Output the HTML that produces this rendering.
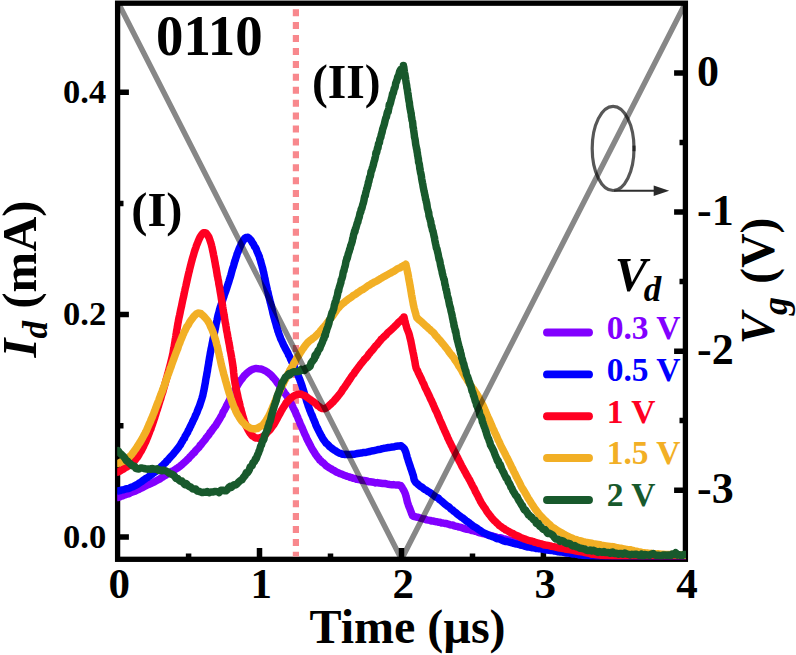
<!DOCTYPE html>
<html><head><meta charset="utf-8"><title>chart</title>
<style>html,body{margin:0;padding:0;background:#fff}svg{display:block}</style></head>
<body>
<svg width="796" height="655" viewBox="0 0 796 655">
<rect width="796" height="655" fill="#fff"/>
<defs><clipPath id="cp"><rect x="117.19999999999999" y="3.2" width="568.8" height="556.0999999999999"/></clipPath></defs>
<rect x="117.6" y="3.2" width="567.8" height="556.0999999999999" fill="none" stroke="#000" stroke-width="5.3"/>
<path d="M117.6,537.1h11.3M117.6,314.6h11.3M117.6,92.2h11.3M117.6,425.8h5.9M117.6,203.4h5.9M685.4,73.1h-11.3M685.4,212.1h-11.3M685.4,351.2h-11.3M685.4,490.2h-11.3M685.4,142.4h-5.9M685.4,281.4h-5.9M685.4,420.5h-5.9M259.5,559.3v-11.3M401.5,559.3v-11.3M543.4,559.3v-11.3M188.6,559.3v-5.9M330.5,559.3v-5.9M472.5,559.3v-5.9M614.4,559.3v-5.9" stroke="#000" stroke-width="5.5" fill="none"/>
<line x1="295.9" y1="9.2" x2="295.9" y2="556.6" stroke="#f8888d" stroke-width="6.2" stroke-dasharray="7 5.92"/>
<g clip-path="url(#cp)" fill="none" stroke-linejoin="round" stroke-linecap="round">
<path d="M118.0,497.4L118.9,497.1L120.1,496.8L121.5,496.0L123.1,495.7L124.8,494.9L126.6,494.2L128.4,493.9L130.2,492.9L131.9,492.2L133.5,491.7L135.0,491.2L136.8,490.2L138.6,489.5L140.2,488.5L141.8,487.9L143.4,487.1L144.9,486.2L146.4,485.5L147.8,484.8L149.5,484.2L150.9,483.5L152.3,482.9L153.8,482.2L155.6,481.1L157.8,480.0L158.9,479.4L160.1,478.8L161.4,477.8L162.8,477.0L164.2,475.9L165.7,475.3L167.2,474.1L168.8,473.3L170.3,472.7L171.8,471.3L173.3,470.8L174.7,469.9L176.0,468.9L177.3,468.2L178.4,467.4L180.1,466.2L181.6,464.9L182.9,463.7L184.2,462.6L185.4,461.5L186.5,460.5L187.6,459.3L188.8,458.4L190.0,456.7L191.1,455.7L192.3,454.5L193.4,453.1L194.6,452.4L195.7,450.5L196.8,449.5L198.0,448.2L199.1,447.2L200.1,445.4L201.2,444.6L202.2,443.0L203.3,441.8L204.3,440.5L205.3,439.4L206.2,437.8L207.2,436.7L208.2,435.4L209.1,434.4L210.1,432.4L211.0,431.7L212.0,430.3L212.9,428.9L213.8,427.8L214.7,426.6L215.6,425.7L216.5,424.1L217.5,422.5L218.7,420.6L220.0,418.4L220.6,417.3L221.3,416.0L222.0,415.1L222.7,413.2L223.4,411.5L224.2,410.5L225.0,408.9L225.8,407.4L226.6,405.7L227.5,404.1L228.3,402.5L229.1,400.9L230.0,399.1L230.8,397.5L231.6,396.3L232.4,394.5L233.2,392.8L233.9,391.9L234.6,390.4L235.3,388.9L236.0,387.7L237.2,386.0L238.3,384.0L239.4,382.3L240.4,380.7L241.4,379.4L242.3,378.4L243.3,376.9L244.2,375.7L245.1,375.0L246.1,373.9L247.0,373.1L248.7,371.7L250.4,370.4L252.1,369.6L253.7,369.0L255.3,368.5L257.0,368.6L258.7,368.8L260.4,368.9L262.1,369.4L263.7,370.1L265.4,370.9L267.0,371.9L268.1,372.7L269.2,373.5L270.2,374.4L271.3,375.2L272.3,376.6L273.5,377.9L274.8,379.3L276.2,381.0L276.9,382.3L277.7,383.4L278.5,384.2L279.3,385.3L280.2,386.4L281.0,387.8L281.9,388.7L282.8,390.3L283.7,391.4L284.7,393.0L285.6,394.2L286.6,395.7L287.5,397.0L288.5,398.7L289.5,400.5L290.4,402.3L291.4,404.0L292.0,405.1L292.7,406.6L293.3,408.0L294.0,409.3L294.7,410.7L295.4,412.2L296.1,414.0L296.8,415.5L297.5,416.9L298.2,418.8L298.9,420.3L299.6,421.9L300.3,423.9L301.0,425.5L301.8,427.0L302.5,428.7L303.2,430.4L303.8,431.8L304.5,433.5L305.2,435.1L305.9,436.2L306.5,438.0L307.2,439.4L307.8,440.7L308.4,441.6L309.0,443.0L310.1,444.9L311.1,446.9L312.0,448.6L312.9,450.1L313.8,451.5L314.6,452.8L315.5,454.3L316.3,455.3L317.2,456.7L318.1,457.8L319.0,458.7L319.9,460.2L320.9,460.9L322.0,462.3L323.2,462.8L324.4,463.9L325.7,465.4L326.9,466.3L328.2,467.1L329.5,468.0L330.9,468.6L332.3,469.6L333.7,470.3L335.2,471.2L336.8,472.2L338.4,472.8L340.0,473.6L341.4,474.0L342.8,474.6L344.2,475.2L345.6,475.7L347.1,476.4L348.6,476.6L350.2,477.5L351.7,477.5L353.3,478.3L355.0,478.5L356.6,479.3L358.3,479.4L360.1,479.9L361.9,480.3L363.7,480.5L365.6,480.8L367.0,481.0L368.6,481.7L370.2,481.7L371.9,482.0L373.7,482.3L375.5,482.9L377.3,482.6L379.2,483.1L381.1,483.3L382.9,483.6L384.8,483.5L386.6,483.9L388.4,484.3L390.2,484.6L391.9,484.8L393.5,484.6L395.0,484.9L396.4,485.1L397.7,485.0L398.9,485.1L399.9,485.6L400.8,485.6L400.8,485.6L401.4,486.7L402.2,487.7L403.2,489.5L404.2,491.2L405.0,493.0L405.6,494.6L406.0,496.3L406.5,498.1L406.9,499.9L407.4,502.1L408.0,503.7L408.5,505.4L409.1,507.0L409.8,508.6L410.5,510.6L411.1,512.0L411.7,513.8L412.2,514.8L412.6,515.8L412.6,515.9L413.5,516.3L414.7,516.6L416.0,517.0L417.5,517.2L419.2,517.6L420.9,518.3L422.7,518.7L424.6,519.0L426.4,519.8L428.2,520.1L430.0,520.4L431.4,520.9L432.9,520.9L434.3,521.3L435.7,521.7L437.1,521.7L438.5,522.2L440.0,522.3L441.5,522.9L443.1,523.0L444.8,523.5L446.6,523.6L448.4,524.2L450.4,524.8L451.7,525.1L453.0,525.1L454.4,525.9L455.9,526.2L457.4,526.4L458.9,527.1L460.5,527.2L462.0,527.8L463.7,528.4L465.3,528.9L466.9,529.3L468.6,529.4L470.2,529.8L471.9,530.6L473.5,530.7L475.2,531.4L476.8,531.6L478.4,532.4L479.9,532.8L481.5,533.2L483.0,533.5L484.6,533.9L486.2,534.3L487.8,534.8L489.3,535.2L490.9,535.6L492.4,535.9L493.9,536.6L495.4,536.8L496.9,537.3L498.4,537.7L499.9,537.8L501.5,538.0L503.0,538.9L504.6,539.0L506.2,539.4L507.8,539.8L509.5,540.2L511.2,540.4L513.0,541.0L514.4,541.2L515.9,541.6L517.4,541.6L518.9,542.4L520.4,542.6L521.9,542.7L523.5,543.1L525.1,543.6L526.7,544.0L528.3,544.2L529.9,544.8L531.5,544.9L533.1,545.0L534.8,545.4L536.4,545.9L538.0,546.1L539.7,546.6L541.3,546.9L542.9,547.2L544.6,547.6L546.2,547.7L547.8,548.0L549.4,548.2L551.0,548.5L552.6,548.7L554.2,549.1L555.8,549.3L557.4,549.6L559.0,550.1L560.7,550.5L562.3,550.6L563.9,551.2L565.6,551.4L567.2,551.7L568.8,551.8L570.4,551.9L572.1,552.5L573.7,552.8L575.3,553.1L576.9,553.3L578.4,553.7L580.0,553.7L581.5,554.1L583.1,554.1L584.6,554.1L586.1,554.6L587.6,555.0L589.0,554.7L590.8,555.4L592.4,555.3L593.9,555.5L595.4,555.8L596.8,555.9L598.1,555.9L599.4,556.2L600.8,556.3L602.1,556.5L603.4,556.3L604.8,556.8L606.3,556.9L607.9,557.0L609.5,556.5L611.3,556.8L613.2,556.6L615.3,557.0L617.6,557.0L620.0,556.8L621.2,556.8L622.5,557.1L623.9,557.2L625.3,557.0L626.8,557.1L628.4,556.7L630.0,557.0L631.7,557.1L633.4,557.2L635.1,557.4L636.9,557.0L638.8,556.8L640.6,557.2L642.5,557.1L644.4,557.2L646.3,557.3L648.2,557.2L650.1,557.4L652.1,557.3L654.0,556.9L655.9,557.1L657.8,557.4L659.7,557.0L661.6,557.2L663.4,557.1L665.2,557.0L667.0,557.3L668.8,557.2L670.5,557.0L672.1,557.2L673.7,556.8L675.3,556.9L676.8,557.2L678.2,557.0L679.5,556.9L680.8,557.1L682.0,557.1L683.2,557.2L684.2,557.1L685.1,557.0L686.0,557.0" stroke="#8200ff" stroke-width="7.5"/>
<path d="M118.0,491.0L119.0,490.8L120.2,490.6L121.7,489.9L123.4,489.8L125.1,489.2L127.0,488.7L128.8,488.5L130.5,487.6L132.0,487.0L133.6,486.4L135.0,485.7L136.5,484.8L137.9,484.1L139.3,483.0L140.8,482.1L142.3,481.1L144.0,479.8L145.2,478.9L146.5,478.0L147.9,477.3L149.3,476.3L150.7,475.2L152.1,474.2L153.6,472.9L155.0,472.1L156.3,471.0L157.6,470.1L158.9,468.8L160.0,467.9L161.4,466.5L162.6,465.5L163.8,464.2L164.8,463.2L165.8,462.4L166.8,460.8L167.9,460.1L168.9,458.8L170.0,457.5L171.0,456.4L172.1,455.3L173.1,454.2L174.1,452.9L175.2,451.6L176.2,450.4L177.3,449.0L178.4,447.7L179.5,446.0L180.6,444.6L181.3,443.0L182.1,441.8L182.8,440.6L183.6,439.1L184.4,438.3L185.2,436.2L186.0,435.0L186.8,433.5L187.6,432.3L188.4,430.2L189.2,429.1L189.9,427.3L190.7,425.9L191.4,424.3L192.1,423.0L192.8,421.3L193.5,420.0L194.2,418.5L194.9,417.2L195.6,415.0L196.2,414.1L196.9,412.5L197.5,410.7L198.1,409.3L198.7,407.7L199.3,406.5L199.9,404.7L200.4,403.1L200.9,401.6L201.4,400.1L201.9,398.6L202.4,396.8L202.8,395.6L203.2,393.4L203.6,391.5L203.9,390.4L204.2,388.8L204.5,387.3L204.8,385.5L205.1,383.9L205.4,382.4L205.6,380.8L205.9,379.0L206.2,377.4L206.5,376.1L206.8,374.2L207.1,372.4L207.4,371.2L207.6,369.4L207.9,367.5L208.2,365.8L208.5,364.4L208.7,362.6L209.0,360.9L209.3,359.3L209.5,357.7L209.8,356.3L210.1,354.5L210.4,352.7L210.7,351.4L211.0,349.6L211.3,348.1L211.7,346.5L212.0,344.6L212.3,342.9L212.7,341.3L213.0,339.4L213.3,338.1L213.7,336.5L214.0,334.7L214.3,333.1L214.7,331.5L215.0,329.9L215.4,328.1L215.7,326.5L216.0,324.8L216.3,323.3L216.7,321.6L217.0,320.3L217.3,318.7L217.7,316.9L218.1,315.1L218.5,313.7L219.0,312.1L219.5,309.9L219.9,308.5L220.3,307.1L220.8,305.8L221.3,304.1L221.8,302.9L222.3,301.2L222.8,299.8L223.3,298.1L223.9,296.4L224.4,294.6L225.0,293.1L225.6,291.5L226.1,290.0L226.7,288.2L227.3,286.4L227.8,284.8L228.4,283.1L228.9,281.5L229.3,280.0L229.8,278.4L230.3,277.0L230.8,275.3L231.3,273.4L231.7,271.9L232.2,270.1L232.7,268.3L233.2,266.9L233.7,265.2L234.2,263.3L234.7,261.7L235.2,260.2L235.7,258.4L236.2,257.0L236.7,255.7L237.1,253.9L237.6,252.9L238.1,251.7L238.5,250.6L239.5,247.9L240.5,245.9L241.4,243.7L242.3,242.1L243.2,240.6L244.1,239.2L245.0,238.1L245.9,237.5L246.8,237.4L247.9,237.3L249.0,238.2L250.1,239.3L251.3,240.7L252.4,242.8L253.5,244.3L254.5,246.5L255.5,247.7L256.2,249.0L256.8,250.8L257.4,252.2L258.0,253.5L258.6,255.0L259.2,256.3L259.7,258.2L260.3,259.9L260.8,261.9L261.4,264.0L262.0,266.0L262.3,267.3L262.7,268.5L263.0,269.9L263.3,271.4L263.7,272.7L264.0,274.4L264.3,275.6L264.6,277.5L265.0,278.7L265.3,280.6L265.6,281.9L266.0,283.9L266.3,285.3L266.7,287.1L267.1,288.8L267.4,290.3L267.9,292.0L268.3,293.6L268.7,295.9L269.1,297.0L269.4,298.5L269.8,300.1L270.2,302.0L270.6,303.0L271.0,304.9L271.4,306.5L271.8,308.3L272.2,309.6L272.6,311.5L273.0,313.4L273.5,315.2L273.9,316.9L274.3,318.2L274.8,320.0L275.2,321.6L275.7,323.0L276.1,324.6L276.6,326.5L277.0,327.9L277.5,329.4L277.9,331.0L278.4,332.0L278.8,333.6L279.5,335.4L280.2,337.2L280.8,339.0L281.6,340.5L282.3,342.1L283.0,343.6L283.7,345.4L284.4,346.4L285.1,348.0L285.8,349.4L286.6,350.6L287.3,352.1L288.0,353.2L288.6,354.9L289.3,356.0L290.0,357.5L290.7,359.2L291.4,360.8L292.1,362.2L292.8,363.7L293.4,365.0L294.1,366.3L294.7,367.9L295.4,369.3L296.1,370.6L296.7,372.4L297.4,373.8L298.0,375.2L298.7,377.0L299.3,378.4L300.0,380.2L300.5,381.8L301.0,382.9L301.6,384.7L302.1,386.0L302.6,387.9L303.1,389.3L303.6,391.0L304.1,392.4L304.6,394.2L305.1,396.1L305.6,397.6L306.1,399.0L306.6,401.0L307.2,402.7L307.7,404.1L308.3,406.0L308.8,407.2L309.4,408.9L310.0,410.7L310.6,412.2L311.2,413.8L311.9,415.0L312.5,416.5L313.2,418.4L313.8,419.7L314.5,421.5L315.2,422.9L315.8,424.8L316.5,426.3L317.2,427.8L317.9,429.2L318.6,430.7L319.3,432.0L320.0,433.5L320.7,434.7L321.4,436.0L322.0,437.0L322.7,438.5L323.8,440.0L325.0,441.7L326.1,443.2L327.3,444.1L328.4,445.2L329.6,446.7L330.7,447.4L331.9,448.4L333.0,449.2L334.2,450.1L335.3,450.6L336.8,451.7L338.2,452.5L339.5,453.2L340.9,453.4L342.3,454.2L344.0,454.4L345.8,454.3L348.0,454.5L349.3,454.6L350.8,454.6L352.3,454.3L354.0,454.3L355.7,453.9L357.5,453.5L359.3,453.2L361.1,453.1L363.0,452.6L364.8,452.5L366.6,452.2L368.3,451.8L370.0,451.5L371.5,451.0L373.0,450.8L375.1,450.3L377.0,449.9L378.9,449.4L380.7,449.2L382.4,448.7L384.0,448.3L385.6,448.1L387.1,447.8L388.6,447.4L390.0,447.4L392.3,447.0L394.5,446.7L396.5,446.2L398.2,445.9L399.7,446.0L400.8,445.8L400.8,445.9L401.8,446.4L403.1,447.4L404.5,449.0L405.0,450.3L405.6,451.6L406.1,453.0L406.6,455.1L407.2,457.3L407.8,458.8L408.4,461.2L408.9,462.5L409.5,464.4L410.2,466.3L410.8,468.3L411.5,470.1L412.1,472.0L412.6,473.7L413.1,475.1L413.4,475.9L413.4,476.2L413.7,477.7L414.2,479.9L415.0,481.3L415.9,482.7L417.1,483.5L418.5,484.9L420.0,486.1L421.1,486.7L422.4,487.5L423.7,488.7L425.1,489.7L426.6,490.4L428.0,491.5L429.4,492.1L430.9,493.3L432.4,494.5L433.9,495.5L435.5,496.8L437.2,497.6L438.4,498.3L439.6,499.7L440.8,500.5L442.1,501.6L443.3,502.7L444.6,503.8L445.9,504.9L447.2,506.0L448.5,506.6L449.8,507.8L451.1,509.2L452.4,509.8L453.6,511.1L454.9,512.0L456.2,513.0L457.5,514.3L458.8,515.3L460.1,516.1L461.5,517.3L463.0,518.1L464.4,519.3L465.8,520.6L467.2,521.5L468.6,522.4L470.1,523.7L471.5,524.6L472.9,525.8L474.4,526.8L475.8,527.6L477.3,528.5L478.7,529.6L480.2,530.5L481.6,531.6L483.0,532.4L484.6,533.3L486.2,533.9L487.7,534.6L489.2,535.5L490.8,535.9L492.4,536.7L494.0,537.1L495.6,537.9L497.0,538.7L498.5,538.8L500.0,539.3L501.7,540.0L503.6,540.9L505.9,541.5L507.2,541.6L508.6,542.0L510.1,542.4L511.7,542.7L513.3,543.3L515.0,543.7L516.7,544.0L518.5,544.5L520.2,545.0L522.0,545.4L523.7,545.7L525.5,546.4L527.2,546.9L528.8,547.0L530.4,547.2L531.9,547.7L533.3,547.8L534.7,548.0L536.1,548.5L537.5,548.4L539.0,548.7L540.4,548.9L541.9,549.1L543.5,549.4L545.2,549.7L547.0,550.1L548.9,550.3L551.0,550.5L552.3,550.5L553.8,550.9L555.2,551.0L556.8,551.4L558.3,551.8L560.0,551.9L561.6,552.1L563.3,552.3L565.1,552.7L566.8,553.0L568.6,553.1L570.3,553.4L572.1,553.9L573.9,553.8L575.7,554.2L577.4,554.4L579.2,555.0L580.9,555.1L582.6,555.3L584.3,555.5L585.9,555.7L587.5,555.9L589.0,555.8L590.8,556.2L592.4,556.4L593.9,556.3L595.4,556.7L596.8,556.8L598.1,556.6L599.4,556.8L600.8,556.9L602.1,557.0L603.4,557.2L604.8,557.0L606.3,557.2L607.9,557.3L609.5,557.4L611.3,557.4L613.2,557.4L615.3,557.5L617.6,557.2L620.0,557.6L621.2,557.5L622.5,557.3L623.9,557.5L625.3,557.3L626.8,557.3L628.4,557.5L630.0,557.5L631.7,557.7L633.4,557.5L635.1,557.4L636.9,557.5L638.8,557.9L640.6,557.6L642.5,557.5L644.4,557.5L646.3,557.4L648.2,557.6L650.1,557.7L652.1,557.8L654.0,557.8L655.9,557.6L657.8,557.5L659.7,557.5L661.6,557.2L663.4,557.4L665.2,557.6L667.0,557.5L668.8,557.6L670.5,557.3L672.1,557.7L673.7,557.6L675.3,557.5L676.8,557.6L678.2,557.2L679.5,557.4L680.8,557.4L682.0,557.8L683.2,557.5L684.2,557.4L685.1,557.6L686.0,557.5" stroke="#0000ff" stroke-width="7.5"/>
<path d="M118.0,472.0L118.9,471.5L120.1,471.0L121.6,469.9L123.2,469.3L124.8,468.1L126.5,467.1L128.0,466.3L129.1,465.2L130.3,464.3L131.4,463.5L132.5,462.7L133.7,461.5L134.8,460.5L136.0,458.9L137.1,457.6L138.3,455.8L139.0,454.6L139.7,453.3L140.4,452.1L141.2,451.0L141.9,449.6L142.6,448.2L143.4,446.7L144.1,445.0L144.8,443.6L145.6,442.0L146.3,440.4L147.1,438.4L147.8,436.7L148.6,434.6L149.3,432.9L149.8,431.3L150.3,430.1L150.9,429.0L151.4,427.0L151.9,425.9L152.5,424.3L153.0,422.6L153.6,421.0L154.1,419.4L154.7,417.8L155.2,415.9L155.8,414.2L156.3,412.5L156.8,410.8L157.4,409.3L157.9,407.5L158.4,406.2L158.9,404.2L159.4,402.8L159.8,401.3L160.3,399.7L160.7,398.9L161.3,396.4L161.8,394.9L162.4,393.1L162.9,391.7L163.4,389.5L163.8,388.3L164.3,386.4L164.8,384.9L165.2,383.2L165.6,381.9L166.0,380.1L166.4,378.8L166.8,377.4L167.2,376.2L167.6,374.1L168.0,373.2L168.5,371.3L169.0,369.3L169.4,367.7L169.9,365.9L170.3,364.6L170.7,362.8L171.1,361.2L171.5,359.6L171.9,358.0L172.3,356.3L172.6,354.5L173.0,353.2L173.3,351.1L173.6,349.2L173.9,348.1L174.2,346.4L174.4,344.8L174.7,343.1L175.0,341.4L175.2,339.8L175.5,338.2L175.8,336.3L176.0,334.7L176.3,333.4L176.5,331.6L176.8,329.9L177.1,328.7L177.3,327.0L177.6,325.5L177.8,324.1L178.0,323.1L178.3,321.7L178.5,320.3L178.8,318.8L179.1,317.3L179.5,315.6L180.0,313.2L180.5,310.6L180.7,309.7L181.0,308.4L181.3,307.2L181.6,305.9L181.9,304.2L182.2,302.7L182.5,301.2L182.9,299.4L183.2,298.1L183.6,296.5L184.0,294.6L184.3,292.8L184.7,291.1L185.1,289.2L185.5,287.5L185.9,285.8L186.3,283.9L186.7,282.2L187.1,280.3L187.4,278.9L187.8,277.2L188.2,275.4L188.6,273.6L188.9,272.4L189.3,271.0L189.6,269.3L190.0,268.0L190.3,266.7L190.6,265.6L191.2,263.1L191.7,261.2L192.3,259.0L192.8,257.3L193.4,255.3L193.9,253.5L194.4,251.7L194.9,250.2L195.4,248.8L195.9,247.5L196.3,246.1L196.8,244.7L197.3,243.6L197.7,242.6L198.2,241.3L199.3,238.7L200.4,236.5L201.4,235.0L202.4,233.7L203.5,232.7L204.5,232.8L205.4,232.8L206.3,233.3L207.1,234.5L208.0,235.7L208.9,237.2L209.8,239.8L210.8,242.9L211.1,243.7L211.4,244.9L211.7,246.2L212.0,247.1L212.3,248.8L212.6,250.2L212.9,251.6L213.2,252.9L213.5,254.7L213.8,256.1L214.2,257.9L214.5,259.6L214.8,261.2L215.1,262.8L215.4,264.6L215.7,266.5L216.1,268.0L216.4,270.0L216.7,271.8L217.0,273.5L217.3,275.7L217.7,277.1L218.0,279.2L218.3,280.3L218.6,281.8L218.8,283.8L219.1,285.3L219.4,286.7L219.7,288.4L219.9,289.7L220.2,291.6L220.5,293.2L220.8,295.0L221.1,296.8L221.3,298.4L221.6,300.1L221.9,301.7L222.2,303.4L222.5,305.2L222.7,306.8L223.0,308.7L223.3,310.1L223.5,312.2L223.8,313.4L224.1,315.3L224.4,316.7L224.6,318.7L224.9,320.0L225.1,321.6L225.4,323.2L225.7,324.4L225.9,325.8L226.2,327.5L226.5,329.8L226.8,331.3L227.2,333.0L227.5,334.9L227.8,336.9L228.1,338.0L228.4,339.9L228.7,341.5L229.0,343.2L229.3,344.5L229.6,346.3L229.9,348.0L230.1,349.7L230.4,351.2L230.7,352.4L231.0,354.0L231.2,355.4L231.5,356.7L231.7,358.1L232.0,359.9L232.2,361.2L232.5,363.1L232.8,365.1L233.0,366.4L233.2,368.3L233.4,369.8L233.5,371.3L233.7,373.0L233.9,374.4L234.0,376.0L234.2,377.5L234.4,379.3L234.7,380.6L234.9,382.5L235.2,384.2L235.6,385.9L236.0,388.0L236.3,389.2L236.6,390.9L236.9,392.1L237.3,393.8L237.7,395.5L238.0,397.3L238.4,399.0L238.8,400.7L239.2,402.3L239.7,404.0L240.1,406.0L240.5,407.7L241.0,409.2L241.4,411.3L241.9,412.8L242.3,414.3L242.8,416.2L243.3,417.5L243.7,419.1L244.2,420.7L244.6,421.8L245.1,423.3L245.6,424.3L246.0,425.7L247.1,427.9L248.2,430.1L249.2,431.7L250.3,433.5L251.5,435.0L252.6,436.1L253.8,436.6L254.9,437.7L256.2,438.1L257.4,438.1L258.7,438.4L260.0,437.7L261.3,437.3L262.7,436.7L264.1,435.8L265.5,434.6L266.9,432.9L268.3,431.3L269.8,430.0L271.2,428.0L272.0,427.1L272.8,425.8L273.7,424.8L274.5,423.4L275.4,421.9L276.2,420.3L277.1,418.8L278.0,417.1L278.8,415.6L279.7,413.9L280.5,412.4L281.4,410.7L282.2,409.5L283.1,407.8L283.9,406.6L284.7,405.4L285.5,403.9L286.3,402.7L287.8,401.4L289.3,399.6L290.7,398.3L292.1,397.1L293.5,396.2L294.9,395.3L296.3,394.8L297.6,394.4L299.0,394.2L300.5,393.9L302.1,394.7L303.6,395.2L305.1,395.8L306.6,396.9L308.0,398.0L309.5,399.1L311.0,400.0L312.3,401.1L313.7,402.0L315.0,403.0L316.4,404.2L317.7,405.6L319.1,406.4L320.3,407.6L321.6,408.3L322.7,408.6L324.6,408.7L326.2,407.9L327.8,406.9L329.3,405.4L331.0,403.9L332.0,402.8L333.0,402.0L334.0,400.8L335.1,399.5L336.1,398.5L337.2,397.2L338.3,395.7L339.3,394.6L340.4,393.1L341.3,391.9L342.3,390.3L343.2,388.8L344.2,387.7L345.1,386.3L346.1,384.9L347.0,383.4L348.0,382.1L349.0,380.4L350.0,379.1L350.9,377.6L351.9,376.0L352.8,374.9L353.8,373.9L354.8,372.0L355.7,371.1L356.7,369.5L357.7,368.2L358.6,367.0L359.6,365.7L360.5,364.4L361.6,363.1L362.6,361.9L363.6,360.7L364.6,359.2L365.6,358.4L366.7,357.2L367.7,356.1L368.8,354.2L370.0,353.0L371.0,351.5L372.1,350.5L373.2,349.2L374.4,347.6L375.5,346.1L376.7,345.0L377.9,343.6L379.1,342.0L380.2,340.8L381.3,339.2L382.4,338.3L383.7,337.1L384.9,335.8L386.1,334.9L387.2,333.3L388.4,332.1L389.5,331.4L390.7,330.2L391.8,329.2L393.0,328.1L394.3,326.8L395.6,325.6L397.0,324.2L398.5,322.4L399.8,321.3L401.1,320.3L402.3,318.8L403.3,318.1L404.0,317.2L404.0,317.1L404.3,318.5L404.6,319.9L405.1,321.5L405.5,323.6L406.0,325.1L406.5,326.9L407.1,328.9L407.7,330.3L408.3,331.8L409.0,333.8L409.6,336.0L409.9,337.5L410.3,338.9L410.6,340.3L411.0,341.8L411.3,343.6L411.7,345.3L412.0,347.2L412.3,348.9L412.7,350.6L413.0,352.1L413.4,353.8L413.8,355.9L414.1,357.8L414.5,359.9L414.9,361.6L415.2,363.6L415.5,365.5L415.8,366.5L416.0,367.5L416.0,367.7L416.4,368.7L416.8,369.6L417.3,370.3L417.8,371.4L418.3,372.7L418.9,373.9L419.6,375.4L420.3,376.7L421.0,378.1L421.7,379.7L422.4,381.4L423.2,382.9L424.0,384.5L424.7,386.5L425.5,388.4L426.3,389.7L427.1,391.4L427.9,393.2L428.7,394.8L429.5,396.4L430.2,398.3L430.9,399.6L431.7,401.1L432.3,402.6L433.0,404.0L433.6,405.5L434.4,407.3L435.1,409.1L435.8,410.6L436.6,412.1L437.3,413.5L437.9,415.3L438.6,416.7L439.3,418.4L439.9,420.1L440.6,421.5L441.2,422.9L441.9,424.3L442.5,425.9L443.1,427.4L443.8,428.7L444.4,430.2L445.1,431.8L445.7,432.9L446.3,434.5L447.0,435.8L447.7,437.8L448.5,439.2L449.2,440.8L449.9,442.3L450.7,443.8L451.4,445.4L452.1,446.6L452.9,448.4L453.6,449.9L454.3,451.1L455.1,452.9L455.8,454.3L456.5,455.4L457.2,457.0L457.9,458.4L458.6,459.7L459.3,461.2L460.0,462.3L460.8,464.0L461.6,465.7L462.4,467.2L463.2,468.6L464.0,470.0L464.8,471.6L465.5,472.6L466.3,474.4L467.0,475.6L467.8,476.8L468.6,478.3L469.3,479.5L470.1,480.9L470.8,482.5L471.6,483.9L472.4,485.6L473.1,486.8L473.9,488.2L474.7,489.8L475.4,491.7L476.2,492.9L476.9,494.3L477.7,495.7L478.4,497.2L479.2,498.8L480.0,500.3L480.7,501.8L481.5,503.1L482.2,504.3L483.0,505.4L484.0,507.0L485.1,508.4L486.1,510.1L487.1,511.8L488.2,513.1L489.2,514.6L490.2,515.7L491.3,517.3L492.3,518.4L493.4,519.6L494.4,520.8L495.6,521.7L496.9,523.1L498.1,524.1L499.3,525.5L500.5,526.2L501.7,527.1L503.0,528.2L504.4,528.8L505.9,530.1L507.2,530.6L508.5,531.4L509.9,532.1L511.3,533.1L512.8,533.4L514.2,534.6L515.7,535.1L517.3,535.9L518.8,536.4L520.3,537.3L521.9,537.9L523.5,538.6L525.0,539.1L526.6,539.7L528.2,540.3L529.9,540.7L531.5,541.0L533.2,541.5L534.9,542.3L536.6,542.6L538.3,543.3L540.0,543.6L541.6,543.9L543.2,544.6L544.9,545.1L546.5,545.2L548.2,545.4L549.9,545.8L551.6,546.4L553.3,546.6L555.0,546.9L556.6,547.4L558.3,547.7L560.0,548.0L561.7,548.2L563.3,548.5L565.0,549.0L566.7,549.3L568.4,549.6L570.1,549.7L571.7,550.1L573.4,550.4L575.1,550.7L576.7,551.0L578.4,551.4L580.0,551.5L581.6,551.8L583.1,552.0L584.5,552.5L586.0,552.7L587.4,553.0L588.8,553.2L590.3,553.7L591.8,554.3L593.4,554.3L595.2,554.5L597.0,554.8L599.0,554.9L600.3,555.2L601.6,555.2L603.0,555.3L604.3,555.6L605.7,555.7L607.0,555.8L608.5,555.8L609.9,556.1L611.4,556.0L613.0,556.4L614.6,556.3L616.2,556.5L618.0,556.7L619.7,556.7L621.6,556.5L623.6,556.8L625.6,556.9L627.8,556.8L630.0,556.6L631.3,557.0L632.7,557.0L634.1,557.1L635.6,557.1L637.2,557.1L638.8,557.2L640.5,557.3L642.2,557.2L644.0,557.2L645.8,557.1L647.6,557.3L649.5,557.1L651.4,557.3L653.3,556.8L655.2,557.2L657.1,557.1L659.0,557.1L660.9,557.3L662.8,557.2L664.6,557.1L666.4,557.0L668.2,557.4L670.0,557.2L671.7,557.2L673.4,556.9L675.0,557.2L676.5,557.1L678.0,557.0L679.4,557.0L680.7,556.8L682.0,557.1L683.1,556.8L684.2,557.1L685.1,556.9L686.0,557.0" stroke="#ff0022" stroke-width="7.5"/>
<path d="M118.0,463.4L118.8,463.0L119.9,462.7L121.1,461.9L122.5,461.6L124.0,460.7L125.6,459.8L127.2,459.0L128.8,457.5L130.3,455.9L131.1,455.1L131.9,454.2L132.8,452.9L133.6,451.9L134.5,450.5L135.4,449.4L136.3,448.1L137.2,446.6L138.1,445.2L139.0,443.8L139.9,442.5L140.8,441.0L141.7,439.5L142.6,437.9L143.5,436.1L144.3,434.7L145.2,433.0L145.8,431.8L146.5,430.3L147.1,428.9L147.8,427.3L148.4,426.0L149.1,424.2L149.8,422.8L150.4,421.6L151.1,419.5L151.7,418.4L152.4,416.7L153.0,415.0L153.7,413.5L154.3,411.9L154.9,410.4L155.5,408.6L156.1,407.0L156.7,405.5L157.3,403.9L157.8,402.6L158.4,401.1L158.9,400.1L159.4,398.3L160.1,396.5L160.8,394.8L161.5,392.9L162.1,391.8L162.7,389.5L163.3,388.3L163.8,386.7L164.4,385.5L164.9,383.5L165.4,382.5L165.9,380.8L166.4,379.4L166.9,377.9L167.5,376.6L168.0,374.8L168.6,373.4L169.2,371.8L169.7,370.5L170.3,368.2L170.9,367.3L171.4,365.6L172.0,363.8L172.5,362.4L173.1,360.7L173.6,359.5L174.2,357.7L174.8,356.1L175.4,354.5L176.0,352.9L176.6,351.4L177.2,349.7L177.8,348.5L178.4,346.3L179.0,344.5L179.6,343.4L180.2,341.7L180.8,340.2L181.5,338.5L182.1,337.0L182.7,335.5L183.3,334.2L184.0,332.5L184.6,331.2L185.2,330.3L186.1,328.3L187.1,326.3L188.1,325.1L189.1,323.3L190.0,321.6L191.0,320.2L191.9,319.1L192.8,317.8L193.6,316.7L194.4,315.8L196.4,313.8L197.9,313.1L199.8,313.2L200.9,313.6L202.1,314.8L203.3,315.7L204.6,317.1L205.9,318.6L207.2,320.1L208.4,322.0L209.1,323.2L209.7,324.3L210.3,325.8L210.9,327.3L211.6,328.6L212.2,330.0L212.8,331.6L213.4,333.2L214.0,335.0L214.6,336.9L215.2,338.8L215.8,340.9L216.2,342.1L216.5,343.7L216.9,345.1L217.3,346.3L217.6,347.7L218.0,349.5L218.3,351.3L218.7,352.6L219.1,354.3L219.4,355.9L219.8,357.8L220.2,359.2L220.6,361.2L220.9,362.7L221.3,364.5L221.7,366.1L222.1,367.7L222.5,369.2L223.0,371.0L223.4,372.7L223.8,374.4L224.3,375.9L224.7,377.4L225.2,379.2L225.6,380.9L226.1,382.4L226.6,384.1L227.0,385.7L227.5,387.6L228.0,389.2L228.5,390.7L229.0,392.5L229.5,394.0L230.0,395.5L230.5,397.4L231.0,398.8L231.5,400.1L231.9,401.6L232.4,403.0L232.9,404.2L233.4,405.5L234.2,407.6L235.1,409.2L235.9,411.3L236.7,413.0L237.5,414.5L238.4,415.7L239.2,417.4L240.0,418.5L240.9,419.9L241.7,421.0L242.6,422.0L243.5,422.9L245.1,424.5L246.6,426.0L248.3,426.9L249.9,427.9L251.5,428.5L253.2,428.7L254.8,429.1L256.2,428.5L257.6,428.4L259.0,427.2L260.4,426.4L261.8,425.8L263.3,424.4L264.7,422.6L266.2,420.6L266.8,419.3L267.5,418.4L268.1,417.1L268.8,416.0L269.4,414.8L270.1,413.2L270.8,411.8L271.4,410.1L272.1,408.6L272.8,407.0L273.4,405.4L274.1,404.0L274.8,402.0L275.5,400.8L276.1,398.8L276.8,397.5L277.5,395.7L278.1,394.6L278.8,392.9L279.5,391.4L280.3,389.9L281.0,388.2L281.7,386.6L282.5,384.9L283.2,383.9L283.9,382.1L284.6,380.7L285.4,379.3L286.1,378.1L286.8,376.1L287.6,374.9L288.3,373.4L289.1,372.1L289.8,370.3L290.6,369.1L291.4,367.8L292.3,366.4L293.1,364.9L294.0,362.9L295.0,361.5L295.9,359.9L296.8,358.1L297.8,356.6L298.7,355.4L299.7,353.8L300.6,352.3L301.5,351.1L302.4,349.4L303.3,348.3L304.2,347.0L305.0,345.9L305.8,344.9L307.3,343.0L308.8,341.5L310.2,340.3L311.6,339.5L312.9,338.2L314.1,337.5L315.3,336.4L316.5,335.2L317.7,334.1L318.9,332.7L320.0,331.7L321.0,330.2L322.0,329.1L323.0,327.9L324.1,326.7L325.2,325.4L326.3,324.1L327.3,322.6L328.4,321.1L329.5,320.0L330.7,318.5L331.8,316.9L332.8,315.8L333.7,314.3L334.7,312.8L335.7,311.6L336.7,309.9L337.8,308.5L339.0,307.3L340.4,305.6L341.5,304.8L342.6,303.6L343.9,302.8L345.1,301.6L346.4,300.7L347.8,299.4L349.2,298.6L350.6,297.7L352.1,296.6L353.5,295.3L355.0,294.6L356.3,293.8L357.5,292.7L358.8,292.1L360.1,290.9L361.5,290.1L362.8,289.5L364.2,288.6L365.6,287.7L367.0,286.5L368.4,285.5L369.9,284.9L371.4,283.7L373.0,283.0L374.3,282.0L375.7,281.6L377.2,280.7L378.7,279.8L380.2,278.8L381.8,277.9L383.3,277.0L384.9,276.2L386.5,275.3L388.0,274.5L389.5,273.5L390.9,273.0L392.2,272.0L393.5,271.5L394.7,270.8L395.8,269.9L398.0,268.5L399.9,267.9L401.5,266.7L402.9,266.0L404.0,265.3L405.0,264.9L405.8,264.2L405.8,264.4L406.1,265.6L406.5,267.5L407.0,269.3L407.5,272.1L407.8,273.5L408.1,274.7L408.4,276.4L408.7,278.3L409.1,280.5L409.6,283.0L409.8,284.5L410.1,285.7L410.3,287.2L410.6,288.9L410.9,290.8L411.2,292.4L411.5,294.5L411.8,296.3L412.2,298.1L412.5,299.9L412.8,301.4L413.1,303.0L413.3,304.4L413.6,305.7L414.1,307.9L414.7,310.2L415.2,312.0L415.7,313.7L416.1,315.4L416.5,316.6L416.8,317.4L416.8,317.7L417.7,318.5L419.0,319.8L421.0,321.4L422.0,322.2L423.2,323.5L424.4,324.6L425.8,325.9L427.2,327.0L428.6,328.4L429.8,329.3L431.0,330.6L432.4,331.7L433.6,332.8L434.7,334.3L435.9,335.9L437.0,336.8L438.3,338.7L439.3,339.6L440.4,340.8L441.4,342.1L442.5,343.5L443.6,344.6L444.7,346.1L445.9,347.6L447.0,349.1L447.9,350.1L448.8,351.6L449.8,352.9L450.7,354.2L451.7,355.0L452.6,356.5L453.6,357.6L454.6,359.3L455.6,360.8L456.6,362.1L457.4,363.3L458.2,364.9L459.0,366.3L459.8,367.4L460.7,368.9L461.5,370.0L462.3,371.7L463.2,373.3L464.1,374.8L464.9,376.5L465.8,377.5L466.7,378.8L467.6,380.7L468.4,381.8L469.3,383.3L470.2,384.7L471.1,386.0L472.0,387.4L472.9,388.7L473.9,389.6L474.8,391.1L475.7,392.8L476.6,393.8L477.5,395.4L478.3,396.6L479.2,398.0L480.0,399.7L480.7,401.0L481.4,402.2L482.1,403.8L482.8,404.9L483.5,406.5L484.2,408.2L484.8,409.6L485.4,410.9L486.1,412.6L486.7,414.1L487.3,415.7L488.0,417.2L488.6,418.4L489.3,419.9L489.9,421.4L490.6,422.9L491.3,424.7L492.0,426.2L492.6,427.7L493.3,429.1L494.0,430.5L494.6,432.2L495.3,433.5L496.0,435.1L496.7,436.4L497.4,438.1L498.1,439.9L498.8,441.0L499.5,442.5L500.2,444.2L501.0,446.0L501.7,447.5L502.5,448.8L503.2,450.3L504.0,451.8L504.8,453.3L505.6,454.9L506.3,456.4L507.1,457.8L507.9,459.4L508.7,461.0L509.4,462.4L510.2,463.9L511.0,465.8L511.7,467.4L512.5,468.6L513.2,470.2L513.9,471.8L514.7,473.2L515.4,474.7L516.2,476.5L516.9,477.7L517.7,479.3L518.5,480.8L519.3,482.3L520.1,483.9L520.9,485.6L521.7,487.2L522.5,488.5L523.4,490.0L524.3,491.3L525.2,493.0L526.1,494.4L527.0,496.1L527.9,497.8L528.8,499.1L529.7,500.5L530.5,501.9L531.4,503.3L532.2,504.6L533.0,505.6L533.7,506.8L535.0,508.9L536.1,510.1L537.1,511.6L538.1,512.7L539.0,514.2L540.0,515.2L541.1,516.3L542.3,517.6L543.4,518.7L544.6,520.0L545.8,520.9L547.1,522.4L548.4,523.7L549.7,524.6L551.1,526.1L552.5,527.2L554.0,528.0L555.4,529.1L556.9,530.1L558.4,531.0L560.0,532.1L561.5,532.7L563.1,533.7L564.7,534.6L566.2,535.5L567.6,536.1L569.0,536.8L570.7,537.7L572.3,538.1L573.8,539.1L575.2,539.5L576.7,539.8L578.3,540.4L580.0,540.7L581.5,541.1L583.1,541.7L584.7,542.0L586.4,542.6L588.1,542.6L589.9,542.9L591.6,543.2L593.3,544.0L595.0,544.0L596.6,544.2L598.2,544.4L599.8,544.7L601.4,545.1L603.0,545.4L604.6,545.8L606.3,546.1L608.1,546.2L610.0,546.4L611.5,546.6L613.0,546.7L614.6,547.2L616.3,547.7L618.0,547.8L619.7,548.2L621.4,548.3L623.1,548.9L624.9,549.1L626.6,549.4L628.3,549.8L630.0,549.7L631.6,550.2L633.1,550.5L634.6,551.2L636.1,551.2L637.5,551.5L639.0,552.0L640.5,552.0L642.1,552.7L643.9,552.7L645.7,553.0L647.8,553.1L650.0,553.6L651.3,553.3L652.8,553.8L654.4,553.7L656.1,553.9L657.8,553.8L659.6,554.1L661.5,554.2L663.4,554.3L665.4,554.4L667.3,554.5L669.2,554.6L671.2,554.5L673.1,554.4L674.9,554.5L676.7,554.8L678.3,554.7L679.9,555.0L681.4,554.9L682.8,554.7L684.0,555.1L685.1,555.3L686.0,555.0" stroke="#f2af25" stroke-width="7.5"/>
<path d="M118.0,450.8L118.7,451.5L119.7,453.0L120.9,453.9L122.2,455.2L123.5,456.4L124.9,458.3L126.3,460.5L127.6,461.3L129.0,462.9L130.2,463.7L131.5,465.0L132.8,466.0L134.3,465.9L135.9,468.3L137.7,468.8L139.0,469.1L140.5,468.0L142.1,468.0L143.8,468.5L145.5,468.8L147.2,469.2L148.9,468.9L150.7,469.2L152.3,468.5L153.9,469.1L155.3,469.2L157.1,468.8L158.8,470.5L160.4,470.1L162.0,470.8L163.5,470.1L165.0,470.5L166.5,471.3L168.0,472.1L169.4,473.3L170.7,473.9L172.1,474.4L173.4,475.1L174.8,476.5L176.1,478.6L177.6,478.4L179.0,480.1L180.5,481.3L181.9,481.0L183.4,482.9L184.8,484.6L186.3,483.7L187.9,485.7L189.4,486.7L191.0,487.2L192.5,488.8L194.1,489.2L195.6,489.0L197.3,491.0L199.0,491.4L200.7,492.0L202.4,492.6L204.0,492.2L205.7,492.2L207.4,491.5L209.1,492.7L210.8,492.0L212.5,492.1L214.2,491.6L215.8,491.6L217.5,491.7L219.2,492.6L220.9,490.3L222.5,490.2L224.2,490.7L225.9,490.8L227.3,489.6L228.7,487.5L230.1,486.4L231.5,487.4L232.8,485.9L234.2,484.7L235.6,485.0L237.0,484.0L238.3,482.4L239.7,481.2L241.0,480.1L242.0,479.7L243.1,477.9L244.1,476.6L245.2,475.4L246.2,472.8L247.3,473.1L248.3,471.5L249.3,469.8L250.3,466.8L251.2,466.2L252.1,465.6L253.0,462.6L253.8,462.2L254.6,461.6L255.4,458.7L256.2,458.9L256.9,456.8L257.6,454.8L258.2,453.6L258.7,452.3L259.3,450.5L259.8,449.6L260.4,447.0L260.9,445.7L261.4,445.1L262.0,443.0L262.6,440.9L263.3,440.4L263.9,439.1L264.5,436.4L265.2,434.2L265.8,433.4L266.4,431.9L266.9,430.2L267.5,429.8L268.0,426.8L268.5,426.8L269.1,423.5L269.5,422.2L270.0,421.5L270.4,420.3L270.8,418.6L271.2,416.8L271.6,415.1L272.1,413.4L272.6,411.9L273.1,410.0L273.5,408.6L274.0,407.1L274.5,405.1L275.1,403.8L275.6,401.9L276.1,401.0L276.7,398.3L277.2,396.2L277.8,394.6L278.3,393.3L279.0,392.0L279.6,389.5L280.3,388.2L281.0,387.3L281.7,383.0L282.4,382.3L283.1,381.7L283.7,380.4L284.4,379.1L285.5,377.0L286.7,376.2L287.8,375.0L288.9,373.6L290.0,374.7L291.9,372.6L293.9,371.8L296.0,371.7L297.7,371.4L299.5,371.3L301.3,369.4L303.0,370.3L304.5,370.5L305.9,368.4L307.3,368.0L308.5,367.6L309.5,366.6L310.2,366.1L311.1,362.9L312.5,361.3L313.1,360.3L313.7,359.8L314.3,359.0L315.0,355.5L315.7,356.4L316.5,353.5L317.3,353.3L318.1,350.5L318.9,349.8L319.8,348.6L320.6,346.0L321.5,344.2L322.3,342.5L322.8,340.9L323.3,339.4L323.8,339.1L324.2,337.5L324.7,335.3L325.3,335.7L325.8,331.9L326.3,331.7L326.8,329.4L327.3,328.1L327.8,326.9L328.4,325.0L328.9,323.6L329.4,320.7L330.0,319.0L330.5,318.6L331.1,315.9L331.6,314.1L332.1,312.1L332.7,312.0L333.2,309.9L333.8,308.5L334.3,305.2L334.7,304.4L335.1,302.2L335.6,301.9L336.0,300.9L336.4,297.9L336.9,297.8L337.3,295.8L337.7,293.5L338.2,290.8L338.6,291.2L339.0,288.7L339.5,286.7L339.9,285.6L340.4,283.9L340.8,282.9L341.3,279.7L341.7,279.3L342.1,277.9L342.6,276.2L343.0,273.5L343.4,271.5L343.9,271.0L344.3,268.8L344.7,267.2L345.1,266.4L345.6,263.8L346.0,261.1L346.4,260.7L346.8,258.3L347.2,258.5L347.7,256.4L348.2,254.1L348.7,252.7L349.2,251.4L349.7,249.2L350.2,248.2L350.7,245.6L351.2,244.6L351.7,243.1L352.2,241.5L352.7,238.5L353.1,237.8L353.6,234.5L354.1,233.4L354.5,231.3L355.0,231.6L355.4,228.7L355.9,228.0L356.3,226.5L356.7,225.2L357.1,223.5L357.5,222.6L357.8,222.3L358.2,220.0L358.8,218.3L359.3,216.9L359.7,214.7L360.1,212.9L360.4,212.2L360.8,212.1L361.1,209.5L361.4,209.0L361.8,208.6L362.2,207.0L362.7,204.7L363.3,203.1L364.0,200.1L364.3,198.2L364.6,196.8L364.9,196.1L365.3,195.7L365.6,193.5L366.0,191.9L366.4,190.6L366.8,188.6L367.2,188.0L367.6,185.8L368.0,185.1L368.4,181.9L368.8,181.8L369.2,179.6L369.7,177.1L370.1,177.0L370.6,174.7L371.0,171.8L371.5,170.8L371.9,169.8L372.4,167.6L372.8,166.6L373.3,164.9L373.7,163.1L374.2,161.1L374.6,160.0L375.1,158.0L375.5,156.2L375.9,153.0L376.4,153.2L376.8,151.8L377.2,149.3L377.6,147.7L378.0,147.7L378.5,143.7L378.9,143.4L379.4,142.8L379.9,139.1L380.3,138.4L380.8,137.4L381.3,134.5L381.8,133.2L382.2,131.7L382.7,128.9L383.2,127.7L383.6,126.3L384.1,125.0L384.6,122.8L385.0,121.1L385.5,119.0L385.9,117.8L386.4,117.0L386.8,115.0L387.2,112.9L387.7,111.4L388.1,112.1L388.5,109.7L388.9,108.0L389.3,104.7L389.7,105.2L390.1,103.8L390.4,103.3L390.8,101.3L391.4,98.8L392.0,97.0L392.6,93.5L393.2,93.4L393.7,91.1L394.2,88.7L394.7,88.2L395.2,86.8L395.7,83.3L396.1,82.2L396.6,81.4L397.0,80.0L397.4,78.3L397.8,76.7L398.2,77.4L398.6,75.6L399.6,71.7L400.6,69.6L401.5,69.9L402.3,68.3L402.9,67.9L403.4,66.5L403.4,65.5L403.6,67.2L403.8,67.1L404.1,69.6L404.4,71.8L404.8,74.1L405.1,75.4L405.5,77.8L405.8,80.3L406.0,81.6L406.2,83.2L406.5,84.4L406.7,85.6L406.9,87.8L407.2,88.9L407.4,90.0L407.6,91.7L407.9,93.8L408.2,95.4L408.4,97.3L408.7,99.0L408.9,100.6L409.2,101.9L409.4,102.7L409.6,105.3L409.9,107.2L410.1,108.5L410.4,109.7L410.7,111.7L410.9,112.5L411.2,113.6L411.4,116.4L411.7,117.5L412.0,120.2L412.2,120.7L412.5,121.4L412.8,124.0L413.0,127.0L413.2,127.3L413.4,128.1L413.6,129.9L413.9,132.1L414.1,133.5L414.3,134.8L414.5,137.1L414.8,138.2L415.1,139.5L415.4,141.8L415.7,144.4L416.1,146.2L416.5,148.6L416.7,148.6L416.9,150.4L417.2,152.3L417.4,153.0L417.6,155.3L417.9,156.4L418.1,158.1L418.4,158.9L418.6,162.2L418.9,163.0L419.2,163.7L419.5,165.5L419.8,168.7L420.0,168.6L420.3,171.0L420.6,172.8L420.9,173.9L421.2,174.9L421.5,177.4L421.8,179.3L422.2,181.5L422.5,183.0L422.8,184.3L423.1,186.5L423.4,188.0L423.7,189.5L424.0,191.1L424.4,192.5L424.7,194.7L425.0,195.3L425.3,197.1L425.6,199.1L426.0,199.8L426.3,202.1L426.6,202.7L427.0,205.1L427.3,207.4L427.6,208.9L428.0,210.1L428.3,211.6L428.7,212.4L429.0,215.9L429.3,216.7L429.7,218.6L430.1,218.9L430.4,220.9L430.8,221.5L431.1,224.6L431.5,226.3L431.8,226.1L432.2,228.8L432.6,230.8L433.0,231.0L433.3,232.6L433.7,234.6L434.1,236.5L434.5,237.7L434.8,240.2L435.2,242.0L435.6,244.0L436.0,245.7L436.3,247.7L436.7,249.0L437.0,249.0L437.4,251.1L437.7,252.3L438.1,253.9L438.5,256.1L438.8,257.8L439.2,259.7L439.6,260.1L440.0,262.0L440.4,264.4L440.7,265.9L441.1,267.5L441.5,269.4L441.9,270.6L442.3,273.2L442.7,274.6L443.0,276.0L443.4,277.3L443.8,279.3L444.2,279.4L444.6,282.1L444.9,284.3L445.3,285.0L445.7,287.6L446.0,289.2L446.4,289.8L446.7,292.0L447.1,293.5L447.4,295.4L447.7,297.0L448.1,298.0L448.4,298.9L448.7,300.7L449.1,302.6L449.5,305.0L450.0,306.5L450.4,307.7L450.7,309.1L451.1,311.4L451.5,312.9L451.9,314.4L452.3,316.7L452.6,318.1L453.0,320.0L453.3,321.9L453.7,322.9L454.0,326.0L454.3,326.0L454.7,328.3L455.0,329.2L455.3,331.2L455.6,330.5L456.0,332.9L456.3,334.9L456.6,336.4L456.9,338.8L457.2,338.9L457.5,340.8L458.0,342.5L458.5,344.6L458.9,346.2L459.4,347.6L459.8,349.7L460.2,350.5L460.6,353.4L461.0,353.6L461.4,355.9L461.8,358.5L462.2,358.6L462.6,360.2L463.0,362.3L463.4,363.1L463.8,364.0L464.3,366.5L464.9,368.4L465.4,370.2L465.9,371.0L466.4,374.2L467.0,375.8L467.5,376.4L468.0,378.1L468.5,379.2L469.0,381.9L469.5,382.1L470.0,384.4L470.6,385.4L471.1,386.9L471.6,389.3L472.1,391.2L472.5,391.9L473.0,393.0L473.5,395.4L474.0,396.5L474.6,398.4L475.2,400.9L475.7,402.0L476.1,402.5L476.6,405.6L477.1,405.7L477.6,407.7L478.1,408.4L478.7,410.3L479.2,410.9L479.7,414.6L480.3,416.0L480.8,416.0L481.3,417.4L481.9,418.9L482.4,422.1L482.9,422.6L483.4,424.4L483.9,425.8L484.5,427.4L485.0,428.4L485.5,430.5L486.0,431.2L486.5,433.5L487.1,435.3L487.6,436.9L488.1,438.0L488.7,439.1L489.3,441.3L489.9,442.4L490.5,445.2L491.2,446.2L491.8,447.2L492.5,448.5L493.1,449.9L493.8,451.3L494.5,453.2L495.2,455.1L495.9,456.8L496.6,458.3L497.3,460.8L498.1,460.6L498.8,462.6L499.5,465.8L500.2,464.5L501.0,466.8L501.7,468.8L502.4,470.3L503.2,472.0L503.9,473.1L504.6,475.0L505.4,476.4L506.2,478.3L507.0,478.3L507.7,480.4L508.6,482.4L509.4,483.4L510.2,484.9L511.0,487.3L511.8,488.0L512.7,490.3L513.6,491.9L514.5,493.2L515.4,494.9L516.3,496.1L517.2,496.8L518.1,499.1L519.0,500.8L519.8,501.7L520.7,503.3L521.5,505.0L522.3,505.3L523.0,507.3L524.3,509.9L525.4,510.0L526.4,511.7L527.4,512.8L528.4,514.9L529.4,515.3L530.5,516.8L531.6,517.1L532.7,518.7L533.8,519.9L535.0,520.1L536.2,523.2L537.4,524.1L538.6,523.7L539.8,526.4L541.1,527.0L542.3,528.5L543.6,529.5L544.9,529.5L546.3,531.3L547.7,533.4L549.1,533.1L550.5,533.8L551.8,534.5L552.9,535.4L554.0,537.0L555.8,539.0L557.1,538.9L558.4,539.4L560.0,541.3L561.4,540.4L563.0,541.0L564.8,542.5L566.5,543.4L568.3,543.2L570.0,543.8L571.6,545.3L573.1,545.9L574.7,545.6L576.3,546.8L578.0,547.1L580.0,548.3L581.4,548.3L583.0,548.7L584.6,548.9L586.3,550.1L588.1,550.6L589.8,549.9L591.6,550.9L593.3,550.3L595.0,551.0L596.6,551.7L598.0,552.4L599.4,551.5L600.8,551.9L602.3,552.3L603.9,551.5L605.7,552.6L607.7,552.4L610.0,553.2L611.3,552.4L612.6,552.0L613.9,553.3L615.4,553.6L616.8,553.2L618.3,554.2L619.8,553.6L621.4,553.5L623.1,554.3L624.7,553.1L626.5,553.8L628.3,554.3L630.1,554.9L632.0,554.3L633.9,554.7L635.9,554.2L637.9,554.8L640.0,555.7L641.4,554.3L642.9,556.2L644.5,554.4L646.1,554.8L647.9,554.9L649.6,555.4L651.5,554.1L653.3,553.6L655.2,555.2L657.1,555.3L659.1,555.2L661.0,556.4L662.9,554.9L664.9,555.0L666.8,555.4L668.7,555.0L670.5,555.8L672.3,554.0L674.1,554.5L675.7,552.7L677.4,555.2L678.9,554.5L680.3,555.3L681.7,556.0L683.0,554.7L684.1,554.6L685.1,554.4L686.0,554.7" stroke="#18592c" stroke-width="7.5"/>
<path d="M118.39999999999999,3.2 L401.5,559.3 L685.4,3.2" stroke="#000" stroke-opacity="0.47" stroke-width="5.5" stroke-linejoin="miter" stroke-linecap="butt"/>
</g>
<ellipse cx="613.1" cy="148.4" rx="20.9" ry="42.1" fill="none" stroke="#000" stroke-opacity="0.66" stroke-width="3.2"/>
<rect x="632.4" y="145.6" width="3.2" height="5.6" fill="#000" fill-opacity="0.55"/>
<path d="M614,190.8H657" stroke="#2e2e2e" stroke-width="2.1" fill="none"/><path d="M669.2,190.8l-15.5,-5.2v10.4z" fill="#2a2a2a"/>
<text x="63.0" y="547.656" font-size="34.5" text-anchor="start" fill="#000" font-family="Liberation Serif, Times New Roman, serif" font-weight="bold" >0.0</text>
<text x="63.0" y="325.216" font-size="34.5" text-anchor="start" fill="#000" font-family="Liberation Serif, Times New Roman, serif" font-weight="bold" >0.2</text>
<text x="63.0" y="102.77599999999998" font-size="34.5" text-anchor="start" fill="#000" font-family="Liberation Serif, Times New Roman, serif" font-weight="bold" >0.4</text>
<text x="697.0" y="85.91250000000004" font-size="44" text-anchor="start" fill="#000" font-family="Liberation Serif, Times New Roman, serif" font-weight="bold" >0</text>
<text x="697.0" y="224.9375" font-size="44" text-anchor="start" fill="#000" font-family="Liberation Serif, Times New Roman, serif" font-weight="bold" >-1</text>
<text x="697.0" y="363.9625" font-size="44" text-anchor="start" fill="#000" font-family="Liberation Serif, Times New Roman, serif" font-weight="bold" >-2</text>
<text x="697.0" y="502.98749999999995" font-size="44" text-anchor="start" fill="#000" font-family="Liberation Serif, Times New Roman, serif" font-weight="bold" >-3</text>
<text x="119.3" y="598.1" font-size="43" text-anchor="middle" fill="#000" font-family="Liberation Serif, Times New Roman, serif" font-weight="bold" >0</text>
<text x="261.24999999999994" y="598.1" font-size="43" text-anchor="middle" fill="#000" font-family="Liberation Serif, Times New Roman, serif" font-weight="bold" >1</text>
<text x="403.2" y="598.1" font-size="43" text-anchor="middle" fill="#000" font-family="Liberation Serif, Times New Roman, serif" font-weight="bold" >2</text>
<text x="545.15" y="598.1" font-size="43" text-anchor="middle" fill="#000" font-family="Liberation Serif, Times New Roman, serif" font-weight="bold" >3</text>
<text x="687.1" y="598.1" font-size="43" text-anchor="middle" fill="#000" font-family="Liberation Serif, Times New Roman, serif" font-weight="bold" >4</text>
<text x="309.5" y="642.5" font-size="48" text-anchor="start" fill="#000" font-family="Liberation Serif, Times New Roman, serif" font-weight="bold" >Time (µs)</text>
<text x="0" y="0" font-size="56.2" text-anchor="start" fill="#000" font-family="Liberation Serif, Times New Roman, serif" font-weight="bold" transform="translate(156.1,55) scale(0.975,1)">0110</text>
<text x="0" y="0" font-size="49.5" text-anchor="start" fill="#000" font-family="Liberation Serif, Times New Roman, serif" font-weight="bold" transform="translate(131.3,226) scale(0.981,1)">(I)</text>
<text x="0" y="0" font-size="49.5" text-anchor="start" fill="#000" font-family="Liberation Serif, Times New Roman, serif" font-weight="bold" transform="translate(311.9,98.3) scale(0.961,1)">(II)</text>
<text transform="translate(36.3,357.4) rotate(-90)" font-size="48.75" fill="#000" font-family="Liberation Serif, Times New Roman, serif" font-weight="bold"><tspan font-style="italic">I</tspan><tspan font-style="italic" font-size="35.1" dy="10.7">d</tspan><tspan dy="-10.7"> (mA)</tspan></text>
<text transform="translate(773.6,344.2) rotate(-90)" font-size="47.5" fill="#000" font-family="Liberation Serif, Times New Roman, serif" font-weight="bold"><tspan font-style="italic">V</tspan><tspan font-style="italic" font-size="36" dy="13.4" dx="-2.5">g</tspan><tspan dy="-13.4" dx="1.5"> (V)</tspan></text>
<text x="614.7" y="291" font-size="48.5" fill="#000" font-family="Liberation Serif, Times New Roman, serif" font-weight="bold" font-style="italic">V</text>
<text x="643.7" y="300.6" font-size="35" fill="#000" font-family="Liberation Serif, Times New Roman, serif" font-weight="bold" font-style="italic">d</text>
<path d="M547,332.5H589" stroke="#8200ff" stroke-width="7.9" stroke-linecap="round" fill="none"/>
<text x="606.7" y="338.7" font-size="33.5" text-anchor="start" fill="#8200ff" font-family="Liberation Serif, Times New Roman, serif" font-weight="bold" >0.3 V</text>
<path d="M547,374.4H589" stroke="#0000ff" stroke-width="7.9" stroke-linecap="round" fill="none"/>
<text x="606.7" y="380.59999999999997" font-size="33.5" text-anchor="start" fill="#0000ff" font-family="Liberation Serif, Times New Roman, serif" font-weight="bold" >0.5 V</text>
<path d="M547,416.3H589" stroke="#ff0022" stroke-width="7.9" stroke-linecap="round" fill="none"/>
<text x="606.7" y="422.5" font-size="33.5" text-anchor="start" fill="#ff0022" font-family="Liberation Serif, Times New Roman, serif" font-weight="bold" >1 V</text>
<path d="M547,458H589" stroke="#f2af25" stroke-width="7.9" stroke-linecap="round" fill="none"/>
<text x="606.7" y="464.2" font-size="33.5" text-anchor="start" fill="#f2af25" font-family="Liberation Serif, Times New Roman, serif" font-weight="bold" >1.5 V</text>
<path d="M547,500H589" stroke="#18592c" stroke-width="7.9" stroke-linecap="round" fill="none"/>
<text x="606.7" y="506.2" font-size="33.5" text-anchor="start" fill="#18592c" font-family="Liberation Serif, Times New Roman, serif" font-weight="bold" >2 V</text>
</svg>
</body></html>
